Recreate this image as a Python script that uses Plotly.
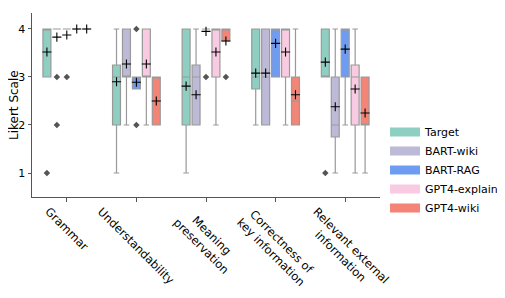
import plotly.graph_objects as go

categories = ["Grammar", "Understandability", "Meaning<br>preservation",
              "Correctness of<br>key information", "Relevant external<br>information"]
models = ["Target", "BART-wiki", "BART-RAG", "GPT4-explain", "GPT4-wiki"]
colors = ["#8ecfc2", "#bdbad8", "#6f9cf3", "#f9cbe3", "#f38476"]
y_title = "Likert Scale"

# per model: quartiles, whisker ends, means, outliers (per category)
target_q1 = [3, 2, 2, 2.75, 3]
target_med = [4, 3, 3, 3, 3]
target_q3 = [4, 3.25, 4, 4, 4]
target_lo = [3, 1, 1, 2, 3]
target_hi = [4, 4, 4, 4, 4]
target_mean = [3.52, 2.9, 2.81, 3.08, 3.31]
target_out = [[1], [], [], [], [1]]

bartwiki_q1 = [4, 3, 2, 2, 1.75]
bartwiki_med = [4, 3, 3, 3, 2]
bartwiki_q3 = [4, 4, 3.25, 4, 3]
bartwiki_lo = [4, 2, 2, 2, 1]
bartwiki_hi = [4, 4, 4, 4, 4]
bartwiki_mean = [3.83, 3.27, 2.63, 3.08, 2.38]
bartwiki_out = [[3, 2], [], [], [], []]

bartrag_q1 = [4, 2.75, 4, 3, 3]
bartrag_med = [4, 3, 4, 4, 4]
bartrag_q3 = [4, 3, 4, 4, 4]
bartrag_lo = [4, 2.75, 4, 3, 2]
bartrag_hi = [4, 3, 4, 4, 4]
bartrag_mean = [3.875, 2.89, 3.95, 3.7, 3.58]
bartrag_out = [[3], [4, 2], [3], [], []]

gptexp_q1 = [4, 3, 3, 3, 2]
gptexp_med = [4, 3, 4, 4, 3]
gptexp_q3 = [4, 4, 4, 4, 3.25]
gptexp_lo = [4, 2, 2, 2, 1]
gptexp_hi = [4, 4, 4, 4, 4]
gptexp_mean = [4.0, 3.27, 3.52, 3.52, 2.75]
gptexp_out = [[], [], [], [], []]

gptwiki_q1 = [4, 2, 3.75, 2, 2]
gptwiki_med = [4, 3, 4, 2.5, 2]
gptwiki_q3 = [4, 3, 4, 3, 3]
gptwiki_lo = [4, 2, 3.75, 2, 1]
gptwiki_hi = [4, 3, 4, 4, 3]
gptwiki_mean = [4.0, 2.5, 3.75, 2.63, 2.25]
gptwiki_out = [[], [], [3], [], []]

stats = [
    (target_q1, target_med, target_q3, target_lo, target_hi, target_mean, target_out),
    (bartwiki_q1, bartwiki_med, bartwiki_q3, bartwiki_lo, bartwiki_hi, bartwiki_mean, bartwiki_out),
    (bartrag_q1, bartrag_med, bartrag_q3, bartrag_lo, bartrag_hi, bartrag_mean, bartrag_out),
    (gptexp_q1, gptexp_med, gptexp_q3, gptexp_lo, gptexp_hi, gptexp_mean, gptexp_out),
    (gptwiki_q1, gptwiki_med, gptwiki_q3, gptwiki_lo, gptwiki_hi, gptwiki_mean, gptwiki_out),
]

n_models = len(models)
slot = 1.0 / 7.0
box_w = slot * 0.8
edge = "#999999"

fig = go.Figure()
for j, (name, col, st) in enumerate(zip(models, colors, stats)):
    q1, med, q3, lo, hi, mean, out = st
    xs = [i + (j - (n_models - 1) / 2) * slot for i in range(len(categories))]
    fig.add_trace(go.Box(
        x=xs, q1=q1, median=med, q3=q3, lowerfence=lo, upperfence=hi,
        width=box_w, fillcolor=col, line=dict(color=edge, width=1.2),
        whiskerwidth=0.7, boxpoints=False, showlegend=False, hoverinfo="skip",
    ))
    ox, oy = [], []
    for xi, vals in zip(xs, out):
        for v in vals:
            ox.append(xi)
            oy.append(v)
    if ox:
        fig.add_trace(go.Scatter(
            x=ox, y=oy, mode="markers", showlegend=False,
            marker=dict(symbol="diamond", size=5, color="#555555"),
        ))
    fig.add_trace(go.Scatter(
        x=xs, y=mean, mode="markers", showlegend=False,
        marker=dict(symbol="cross-thin", size=6.5, line=dict(color="black", width=1.1)),
    ))
    fig.add_trace(go.Scatter(
        x=[None], y=[None], mode="lines", name=name,
        line=dict(color=col, width=9),
    ))

for i, lab in enumerate(categories):
    fig.add_annotation(
        x=i, y=0, xref="x", yref="paper", text=lab, showarrow=False,
        textangle=45, xanchor="center", yanchor="top", yshift=-5,
        align="center", font=dict(size=11.5, color="black"),
    )

# y-axis title
fig.add_annotation(
    x=0, y=0.5, xref="paper", yref="paper", text=y_title, showarrow=False,
    textangle=-90, xanchor="center", yanchor="middle", xshift=-18,
    font=dict(size=12, color="black"),
)

# page body has an 8px default margin, so the figure is sized to fit the window
fig.update_layout(
    width=497, height=290,
    margin=dict(l=24, r=125, t=5, b=101, autoexpand=False),
    plot_bgcolor="white", paper_bgcolor="white",
    font=dict(family="DejaVu Sans", size=11, color="black"),
    boxmode="overlay",
    legend=dict(x=0.7586, y=0.622, xref="container", yref="container",
                xanchor="left", yanchor="top",
                font=dict(size=11), itemwidth=30, tracegroupgap=0),
)
fig.update_xaxes(
    range=[-0.5, 4.5], tickvals=list(range(len(categories))), showticklabels=False,
    ticks="outside", ticklen=3.5, tickcolor="#555555", showgrid=False, zeroline=False,
    showline=True, linecolor="#555555", linewidth=1, automargin=False,
)
fig.update_yaxes(
    range=[0.5, 4.333], tickvals=[1, 2, 3, 4], ticks="outside", ticklen=3.5,
    tickcolor="#555555", showgrid=False, zeroline=False, showline=True,
    linecolor="#555555", linewidth=1, automargin=False,
)

fig.write_html("out.html")
